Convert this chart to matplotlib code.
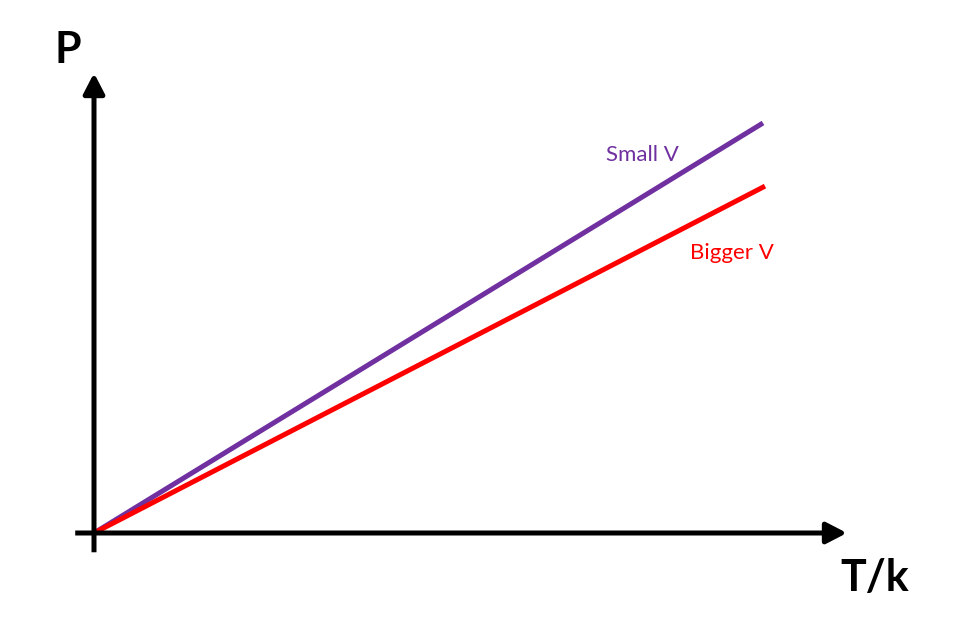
import matplotlib
matplotlib.use('Agg')
from matplotlib import pyplot as plt

# P = (T/k) / V : two straight lines through the origin
t_vals = [0, 10]
p_small_v = [0, 10.0]
p_bigger_v = [0, 8.46]
t_small_v = [0, 9.97]

W, H = 977, 626
fig = plt.figure(figsize=(W / 100, H / 100), dpi=100)
ax = fig.add_axes([0, 0, 1, 1])
ax.set_xlim(-94 / 67.1, (W - 94) / 67.1)
ax.set_ylim(-93 / 41, 533 / 41)
ax.axis('off')

# axes with arrow heads
arrow_kw = dict(arrowstyle='-|>,head_length=0.62,head_width=0.32', mutation_scale=20,
                color='black', lw=3.6, shrinkA=0, shrinkB=0, capstyle='butt')
ax.annotate('', xy=((847 - 94) / 67.1, 0), xytext=(-0.28, 0), arrowprops=arrow_kw)
ax.annotate('', xy=(0, (533 - 73) / 41), xytext=(0, -0.47), arrowprops=arrow_kw)

ax.plot(t_small_v, p_small_v, color='#7030A0', lw=3.6, solid_capstyle='butt')
ax.plot(t_vals, p_bigger_v, color='#FF0000', lw=3.6, solid_capstyle='butt')

fig.text(55 / W, 1 - 63 / H, 'P', fontsize=31, fontweight='bold', family='Lato',
         ha='left', va='baseline')
fig.text(840 / W, 1 - 591 / H, 'T/k', fontsize=31, fontweight='bold', family='Lato',
         ha='left', va='baseline')
fig.text(606 / W, 1 - 161 / H, 'Small V', fontsize=16, color='#7030A0', family='Lato',
         ha='left', va='baseline')
fig.text(690 / W, 1 - 259 / H, 'Bigger V', fontsize=16, color='#FF0000', family='Lato',
         ha='left', va='baseline')

fig.savefig('out.png', dpi=100)
